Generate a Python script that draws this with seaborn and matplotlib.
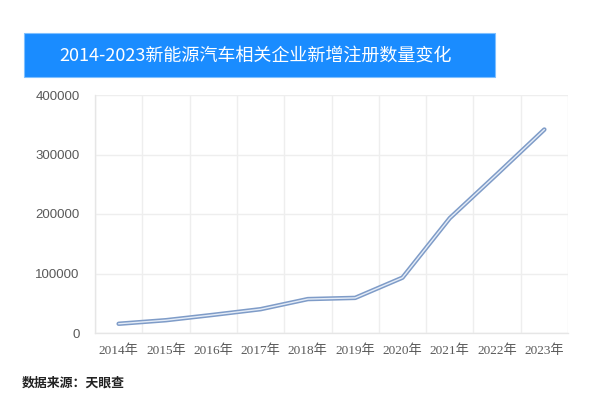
import matplotlib
matplotlib.use("Agg")
import matplotlib.pyplot as plt
import seaborn as sns
import pandas as pd
import numpy as np
from matplotlib.patches import Rectangle

years = ["2014年", "2015年", "2016年", "2017年", "2018年", "2019年", "2020年", "2021年", "2022年", "2023年"]
values = [15500, 21500, 30500, 40000, 57000, 59000, 93000, 193000, 267000, 342000]
yticks = [0, 100000, 200000, 300000, 400000]
title = "2014-2023新能源汽车相关企业新增注册数量变化"
source = "数据来源：天眼查"

sns.set_theme(style="white")
plt.rcParams['font.family'] = ['Noto Sans CJK SC', 'DejaVu Sans']

df = pd.DataFrame({"x": np.arange(len(years)), "year": years, "v": values})

fig = plt.figure(figsize=(6.0, 3.98), dpi=100)
ax = fig.add_axes([95/600, 1-333/398, 473/600, 238/398])

sns.lineplot(data=df, x="x", y="v", ax=ax, color="#7f9cc8", linewidth=3.2, solid_joinstyle="round")
sns.lineplot(data=df, x="x", y="v", ax=ax, color="#e4ecf7", linewidth=1.0, solid_joinstyle="round")

ax.set_xlim(-0.5, len(years) - 0.5)
ax.set_ylim(0, 400000)
ax.set_yticks(yticks)
ax.set_yticklabels([str(t) for t in yticks], family=['Liberation Sans', 'DejaVu Sans'], fontsize=9.5, color="#595959")
ax.set_xticks(df["x"])
ax.set_xticklabels(years, family=['Liberation Serif', 'Noto Sans CJK SC'], fontsize=9.5, color="#595959")
ax.set_xticks(np.arange(-0.5, len(years), 1.0), minor=True)
ax.tick_params(axis="both", which="both", length=0)
ax.tick_params(axis="y", pad=11)
ax.tick_params(axis="x", pad=8)
ax.grid(axis="y", which="major", color="#eeeeee", linewidth=1.0)
ax.grid(axis="x", which="minor", color="#eeeeee", linewidth=1.0)
ax.set_xlabel("")
ax.set_ylabel("")
for s in ["top", "right"]:
    ax.spines[s].set_visible(False)
for s in ["left", "bottom"]:
    ax.spines[s].set_color("#e6e6e6")
    ax.spines[s].set_linewidth(1.0)

# title banner
fig.patches.append(Rectangle((24/600, 1-77/398), 471/600, 44/398, transform=fig.transFigure,
                             facecolor="#1a8cff", edgecolor="#7fc0ff", linewidth=0.8, zorder=0))
fig.text(256/600, 1-56/398, title, ha="center", va="center", color="white", fontsize=13,
         family=['Noto Sans CJK SC', 'DejaVu Sans'])

fig.text(22/600, 1-383/398, source, ha="left", va="center", color="#222222", fontsize=9.3,
         fontweight="bold", family=['Noto Sans CJK SC', 'DejaVu Sans'])

fig.savefig("out.png", dpi=100)
